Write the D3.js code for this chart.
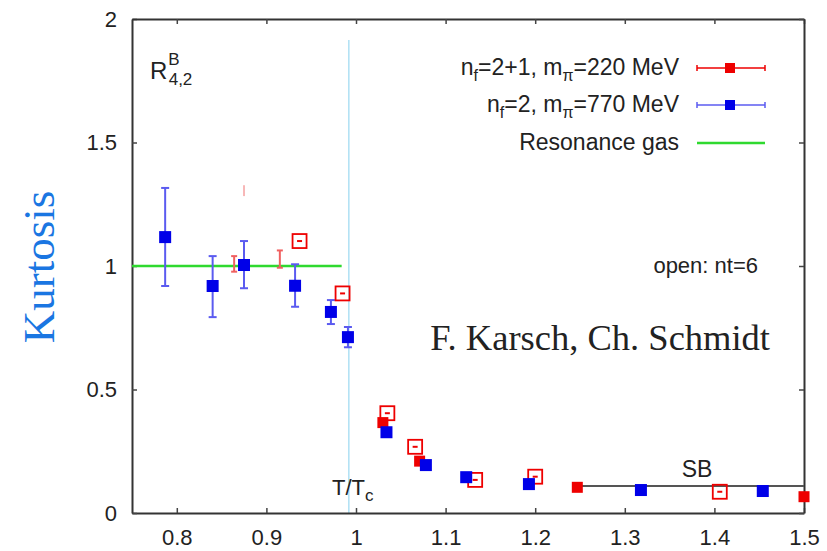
<!DOCTYPE html>
<html>
<head>
<meta charset="utf-8">
<script src="https://cdn.jsdelivr.net/npm/d3@7"></script>
<style>
  body { margin: 0; background: #fff; }
  text { font-family: "Liberation Sans", Arial, sans-serif; fill: #222; }
</style>
</head>
<body>
<div id="chart"></div>
<script>
const width = 827;
const height = 551;

// n_f=2, m_pi=770 MeV (blue, filled)
const blueX  = [0.787, 0.840, 0.875, 0.932, 0.972, 0.991, 1.034, 1.078, 1.123, 1.193, 1.318, 1.454];
const blueY  = [1.117, 0.919, 1.004, 0.920, 0.814, 0.712, 0.327, 0.194, 0.145, 0.117, 0.093, 0.089];
const blueLo = [0.919, 0.793, 0.910, 0.835, 0.765, 0.671, null, null, null, null, null, null];
const blueHi = [1.316, 1.040, 1.101, 1.007, 0.862, 0.753, null, null, null, null, null, null];

// n_f=2+1, m_pi=220 MeV (red, filled)
const redX = [1.030, 1.071, 1.247, 1.500];
const redY = [0.366, 0.210, 0.104, 0.066];

// red error bars whose markers are not visible
const redBarX  = [0.864, 0.875, 0.915];
const redBarLo = [0.977, 1.283, 0.993];
const redBarHi = [1.040, 1.327, 1.063];

// open: nt=6 (red, open)
const openX = [0.937, 0.985, 1.035, 1.066, 1.133, 1.200, 1.406];
const openY = [1.101, 0.889, 0.404, 0.268, 0.134, 0.147, 0.086];

// reference lines
const resonanceX = [0.75, 0.984];
const resonanceY = 1.0;
const sbX = [1.247, 1.5];
const sbY = 0.109;
const tcX = 0.992;
const tcTop = 1.915;

const xTicks = [0.8, 0.9, 1, 1.1, 1.2, 1.3, 1.4, 1.5];
const yTicks = [0, 0.5, 1, 1.5, 2];

const legendLabels = [
  [["n", ""], ["f", "sub"], ["=2+1, m", ""], ["π", "sub"], ["=220 MeV", ""]],
  [["n", ""], ["f", "sub"], ["=2, m", ""], ["π", "sub"], ["=770 MeV", ""]],
  [["Resonance gas", ""]]
];

const margin = { left: 132, right: 23, top: 19, bottom: 38 };

const svg = d3.select("#chart").append("svg")
    .attr("width", width)
    .attr("height", height);

const x = d3.scaleLinear().domain([0.75, 1.5]).range([margin.left, width - margin.right]);
const y = d3.scaleLinear().domain([0, 2]).range([height - margin.bottom, margin.top]);

const RED = "#ee0000", BLUE = "#0000e8", BLUE_ERR = "#5b5bf0";

// Tc line
svg.append("line")
    .attr("x1", x(tcX)).attr("x2", x(tcX))
    .attr("y1", y(tcTop)).attr("y2", y(0))
    .attr("stroke", "#aee0f4").attr("stroke-width", 1.5);

// axes (ticks inward, on all four sides)
const gx = svg.append("g").attr("transform", "translate(0," + y(0) + ")")
    .call(d3.axisBottom(x).tickValues(xTicks).tickSizeInner(-5).tickSizeOuter(0).tickPadding(16)
        .tickFormat(d3.format("")));
const gy = svg.append("g").attr("transform", "translate(" + x(0.75) + ",0)")
    .call(d3.axisLeft(y).tickValues(yTicks).tickSizeInner(-5).tickSizeOuter(0).tickPadding(15)
        .tickFormat(d3.format("")));
const gt = svg.append("g").attr("transform", "translate(0," + y(2) + ")")
    .call(d3.axisTop(x).tickValues(xTicks).tickSizeInner(-5).tickSizeOuter(0).tickFormat(""));
const gr = svg.append("g").attr("transform", "translate(" + x(1.5) + ",0)")
    .call(d3.axisRight(y).tickValues(yTicks).tickSizeInner(-5).tickSizeOuter(0).tickFormat(""));

[gx, gy, gt, gr].forEach(g => {
  g.select(".domain").attr("stroke", "#333").attr("stroke-width", 2);
  g.selectAll(".tick line").attr("stroke", "#444").attr("stroke-width", 1.5);
  g.selectAll(".tick text").attr("font-size", 22).attr("fill", "#222")
    .attr("font-family", "Liberation Sans, Arial, sans-serif");
});

// resonance gas line
svg.append("line")
    .attr("x1", x(resonanceX[0])).attr("x2", x(resonanceX[1]))
    .attr("y1", y(resonanceY)).attr("y2", y(resonanceY))
    .attr("stroke", "#2fd92f").attr("stroke-width", 2.5);

// SB line
svg.append("line")
    .attr("x1", x(sbX[0])).attr("x2", x(sbX[1]))
    .attr("y1", y(sbY)).attr("y2", y(sbY))
    .attr("stroke", "#555").attr("stroke-width", 2);

// error bars
function errBar(g, cx, lo, hi, color, cap) {
  g.append("line").attr("x1", cx).attr("x2", cx).attr("y1", y(lo)).attr("y2", y(hi))
      .attr("stroke", color).attr("stroke-width", 2);
  [lo, hi].forEach(v => g.append("line")
      .attr("x1", cx - cap).attr("x2", cx + cap).attr("y1", y(v)).attr("y2", y(v))
      .attr("stroke", color).attr("stroke-width", 2));
}

const bars = svg.append("g");
blueX.forEach((bx, i) => {
  if (blueLo[i] != null) errBar(bars, x(bx), blueLo[i], blueHi[i], BLUE_ERR, 4);
});
redBarX.forEach((rx, i) => {
  if (i === 1) {
    bars.append("line").attr("x1", x(rx)).attr("x2", x(rx))
        .attr("y1", y(redBarLo[i])).attr("y2", y(redBarHi[i]))
        .attr("stroke", "#f07070").attr("stroke-width", 1);
  } else {
    errBar(bars, x(rx), redBarLo[i], redBarHi[i], "#f06060", 3);
  }
});

// open squares
const op = svg.append("g").selectAll("g").data(openX).enter().append("g")
    .attr("transform", (d, i) => "translate(" + x(d) + "," + y(openY[i]) + ")");
op.append("rect").attr("x", -7).attr("y", -7).attr("width", 14).attr("height", 14)
    .attr("fill", "none").attr("stroke", RED).attr("stroke-width", 1.8);
op.append("line").attr("x1", -2.5).attr("x2", 2.5).attr("y1", 0).attr("y2", 0)
    .attr("stroke", RED).attr("stroke-width", 2);

// filled red squares
svg.append("g").selectAll("rect").data(redX).enter().append("rect")
    .attr("x", d => x(d) - 5.5).attr("y", (d, i) => y(redY[i]) - 5.5)
    .attr("width", 11).attr("height", 11).attr("fill", RED);

// filled blue squares
svg.append("g").selectAll("rect").data(blueX).enter().append("rect")
    .attr("x", d => x(d) - 6).attr("y", (d, i) => y(blueY[i]) - 6)
    .attr("width", 12).attr("height", 12).attr("fill", BLUE);

// legend
const legend = svg.append("g");
const legendY = [68, 105, 143];
legendLabels.forEach((parts, i) => {
  const t = legend.append("text").attr("x", 679).attr("y", legendY[i] + 7)
      .attr("text-anchor", "end").attr("font-size", 23);
  parts.forEach(p => {
    const s = t.append("tspan").text(p[0]);
    if (p[1] === "sub") s.attr("font-size", 16).attr("dy", 6);
    else if (t.selectAll("tspan").size() > 1) s.attr("dy", -6);
  });
});
[[RED, RED], [BLUE_ERR, BLUE]].forEach((c, i) => {
  const g = legend.append("g").attr("transform", "translate(0," + legendY[i] + ")");
  g.append("line").attr("x1", 697).attr("x2", 765).attr("stroke", c[0]).attr("stroke-width", 1.3);
  [697, 765].forEach(v => g.append("line").attr("x1", v).attr("x2", v).attr("y1", -3).attr("y2", 3)
      .attr("stroke", c[0]).attr("stroke-width", 1.5));
  g.append("rect").attr("x", 725).attr("y", -5).attr("width", 10).attr("height", 10).attr("fill", c[1]);
});
legend.append("line").attr("x1", 697).attr("x2", 765).attr("y1", legendY[2]).attr("y2", legendY[2])
    .attr("stroke", "#2fd92f").attr("stroke-width", 2.5);

// annotations
const rl = svg.append("text").attr("x", 150).attr("y", 79).attr("font-size", 24);
rl.append("tspan").text("R");
rl.append("tspan").text("B").attr("font-size", 17).attr("dx", 1).attr("dy", -14);
rl.append("tspan").text("4,2").attr("font-size", 17).attr("dx", -11).attr("dy", 20);

svg.append("text").attr("x", 758).attr("y", 273).attr("text-anchor", "end")
    .attr("font-size", 22).text("open: nt=6");

svg.append("text").attr("x", 770).attr("y", 350).attr("text-anchor", "end")
    .attr("font-size", 36.5).style("font-family", "'Liberation Serif', 'Times New Roman', serif")
    .text("F. Karsch, Ch. Schmidt");

const tt = svg.append("text").attr("x", 332).attr("y", 495).attr("font-size", 22);
tt.append("tspan").text("T/T");
tt.append("tspan").text("c").attr("font-size", 17).attr("dy", 6);

svg.append("text").attr("x", 697).attr("y", 477).attr("text-anchor", "middle")
    .attr("font-size", 23).text("SB");

svg.append("text")
    .attr("transform", "translate(54,267) rotate(-90)")
    .attr("text-anchor", "middle")
    .attr("font-size", 45)
    .style("font-family", "'Liberation Serif', 'Times New Roman', serif")
    .style("fill", "#1a76e2")
    .text("Kurtosis");
</script>
</body>
</html>
